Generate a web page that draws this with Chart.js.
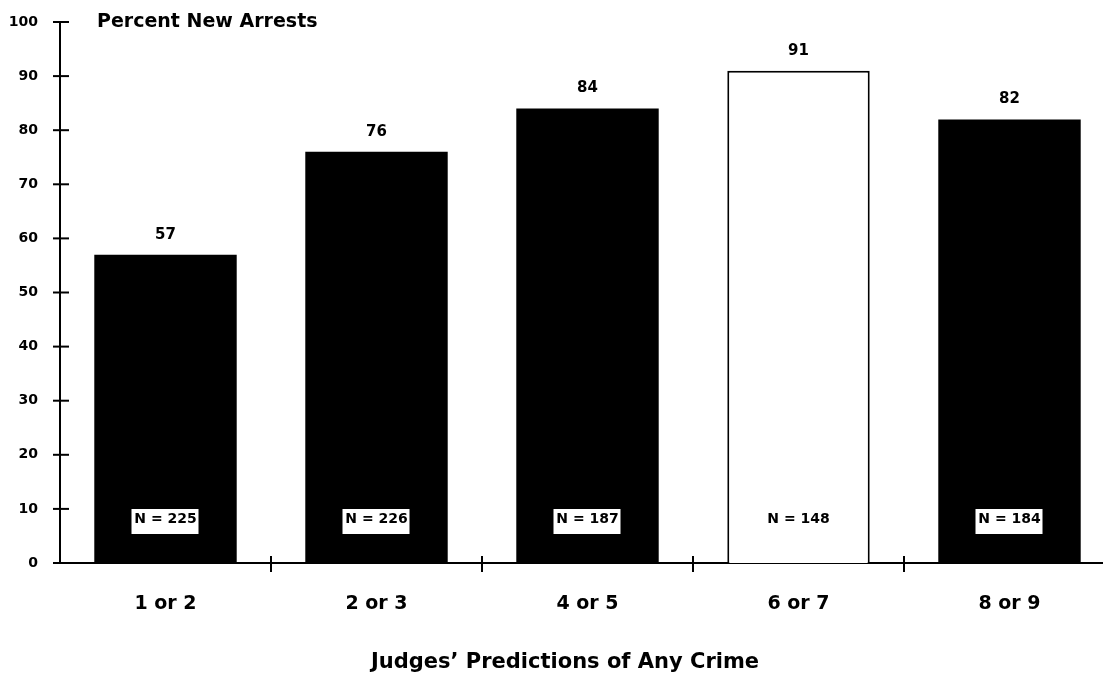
<!DOCTYPE html>
<html>
<head>
<meta charset="utf-8">
<script src="https://cdn.jsdelivr.net/npm/chart.js@4.4.1/dist/chart.umd.min.js"></script>
<style>
html,body{margin:0;padding:0;background:#fff;overflow:hidden}
canvas{display:block}
</style>
</head>
<body>
<canvas id="graphe" width="1120" height="676"></canvas>
<script>
// data
const categories=["1 or 2","2 or 3","4 or 5","6 or 7","8 or 9"];
const pctNewArrests=[57,76,84,91,82];
const nCases=[225,226,187,148,184];
const barFill=["#000","#000","#000","#fff","#000"];
const yTitle="Percent New Arrests";
const xTitle="Judges\u2019 Predictions of Any Crime";

const police="'DejaVu Sans', 'Liberation Sans', sans-serif";
Chart.defaults.font.family=police;
Chart.defaults.color="#000";

// axis cross ticks, value labels and N boxes
const decor={
    id:'decor',
    afterDraw(chart){
        const c=chart.ctx;
        const x=chart.scales.x, y=chart.scales.y;
        const area=chart.chartArea;
        c.save();
        c.strokeStyle="#000";
        c.lineWidth=2;
        // y ticks crossing the axis
        y.ticks.forEach(t=>{
            const py=y.getPixelForValue(t.value);
            c.beginPath();c.moveTo(area.left-7,py);c.lineTo(area.left+9,py);c.stroke();
        });
        // x ticks at category boundaries
        for(let i=0;i<categories.length-1;i++){
            const px=(x.getPixelForValue(i)+x.getPixelForValue(i+1))/2;
            c.beginPath();c.moveTo(px,area.bottom-7);c.lineTo(px,area.bottom+9);c.stroke();
        }
        const meta=chart.getDatasetMeta(0);
        c.textAlign="center";
        c.textBaseline="middle";
        meta.data.forEach((bar,i)=>{
            c.fillStyle="#000";
            c.font="bold 15px "+police;
            c.fillText(String(pctNewArrests[i]),bar.x,bar.y-20);
            const by=y.getPixelForValue(0)-42;
            if(barFill[i]!=="#fff"){
                c.fillStyle="#fff";
                c.fillRect(bar.x-34,by-12,67,25);
            }
            c.fillStyle="#000";
            c.font="bold 14px "+police;
            c.fillText("N = "+nCases[i],bar.x,by-2);
        });
        // titles
        c.textAlign="left";
        c.font="bold 19px "+police;
        c.fillText(yTitle,area.left+37,area.top);
        c.textAlign="center";
        c.font="bold 21px "+police;
        c.fillText(xTitle,area.left+505,663);
        c.restore();
    }
};

var ctx=document.getElementById("graphe");
var chart=new Chart(ctx,{
    type:'bar',
    data:{
        labels:categories,
        datasets:[{
            label:yTitle,
            data:pctNewArrests,
            backgroundColor:barFill,
            borderColor:"#000",
            borderWidth:barFill.map(f=>f==="#fff"?2:0),
            borderSkipped:'bottom',
            categoryPercentage:1,
            barPercentage:0.675
        }]
    },
    options:{
        responsive:false,
        animation:false,
        layout:{padding:{top:22,right:5,left:0,bottom:0}},
        plugins:{legend:{display:false},tooltip:{enabled:false}},
        scales:{
            x:{
                grid:{display:false,drawTicks:false},
                border:{display:true,color:"#000",width:2},
                ticks:{font:{size:19,weight:'bold'},color:"#000",padding:30},
                afterFit(s){s.height=113;}
            },
            y:{
                min:0,max:100,
                grid:{display:false,drawTicks:false},
                border:{display:true,color:"#000",width:2},
                ticks:{stepSize:10,font:{size:14,weight:'bold'},color:"#000",padding:22},
                afterFit(s){s.width=60;s.paddingTop=0;s.paddingBottom=0;}
            }
        }
    },
    plugins:[decor]
});
</script>
</body>
</html>
